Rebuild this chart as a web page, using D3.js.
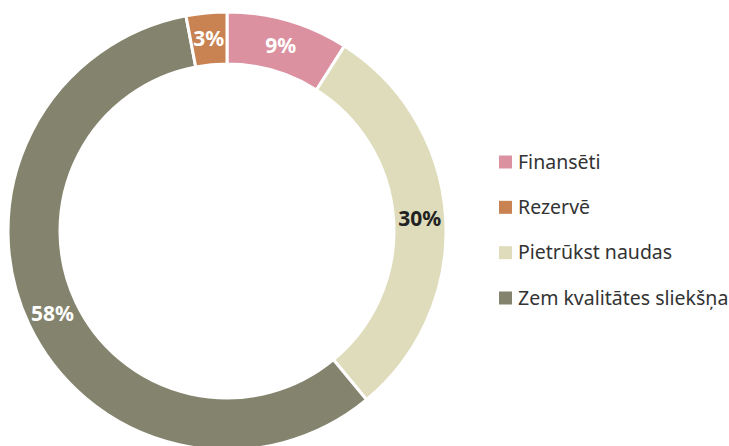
<!DOCTYPE html>
<html lang="lv">
<head>
  <meta charset="UTF-8">
  <title>Finansējuma sadalījums</title>
  <script src="https://d3js.org/d3.v7.min.js"></script>
  <style>
    body { margin: 0; background: #fff; }
    text { font-family: "Noto Sans", "Open Sans", sans-serif; }
  </style>
</head>
<body>
  <svg width="729" height="446"></svg>

  <script>
    // slices in drawing order (clockwise from top)
    const sliceNames = ["Finansēti", "Pietrūkst naudas", "Zem kvalitātes sliekšņa", "Rezervē"];
    const sliceValues = [9, 30, 58, 3];
    const sliceColors = ["#db91a0", "#dedcbb", "#84846e", "#c98251"];
    const labelColors = ["#fff", "#222", "#fff", "#fff"];

    // legend order
    const legendNames = ["Finansēti", "Rezervē", "Pietrūkst naudas", "Zem kvalitātes sliekšņa"];

    const svg = d3.select("svg");
    const cx = 227, cy = 231;
    const outerR = 219, innerR = 167;

    const color = d3.scaleOrdinal().domain(sliceNames).range(sliceColors);

    const data = sliceNames.map((n, i) => ({ name: n, value: sliceValues[i], lc: labelColors[i] }));

    const pie = d3.pie().value(d => d.value).sort(null);
    const arc = d3.arc().innerRadius(innerR).outerRadius(outerR);

    const g = svg.append("g").attr("transform", "translate(" + cx + "," + cy + ")");

    const arcs = g.selectAll(".arc")
      .data(pie(data))
      .enter().append("g")
      .attr("class", "arc");

    arcs.append("path")
      .attr("d", arc)
      .attr("fill", d => color(d.data.name))
      .attr("stroke", "#fff")
      .attr("stroke-width", 3);

    arcs.append("text")
      .attr("transform", d => "translate(" + arc.centroid(d) + ")")
      .attr("dy", ".35em")
      .attr("text-anchor", "middle")
      .attr("font-size", 21)
      .attr("font-weight", "bold")
      .attr("fill", d => d.data.lc)
      .text(d => d.data.value + "%");

    // legend
    const leg = svg.append("g").attr("transform", "translate(499,0)");
    const y = d3.scalePoint().domain(legendNames).range([162, 298]);

    const items = leg.selectAll(".item")
      .data(legendNames)
      .enter().append("g")
      .attr("class", "item")
      .attr("transform", d => "translate(0," + y(d) + ")");

    items.append("rect")
      .attr("x", 0).attr("y", -6.5)
      .attr("width", 13).attr("height", 13)
      .attr("fill", d => color(d));

    items.append("text")
      .attr("x", 19)
      .attr("dy", ".35em")
      .attr("font-size", 19.5)
      .attr("fill", "#333")
      .text(d => d);
  </script>
</body>
</html>
